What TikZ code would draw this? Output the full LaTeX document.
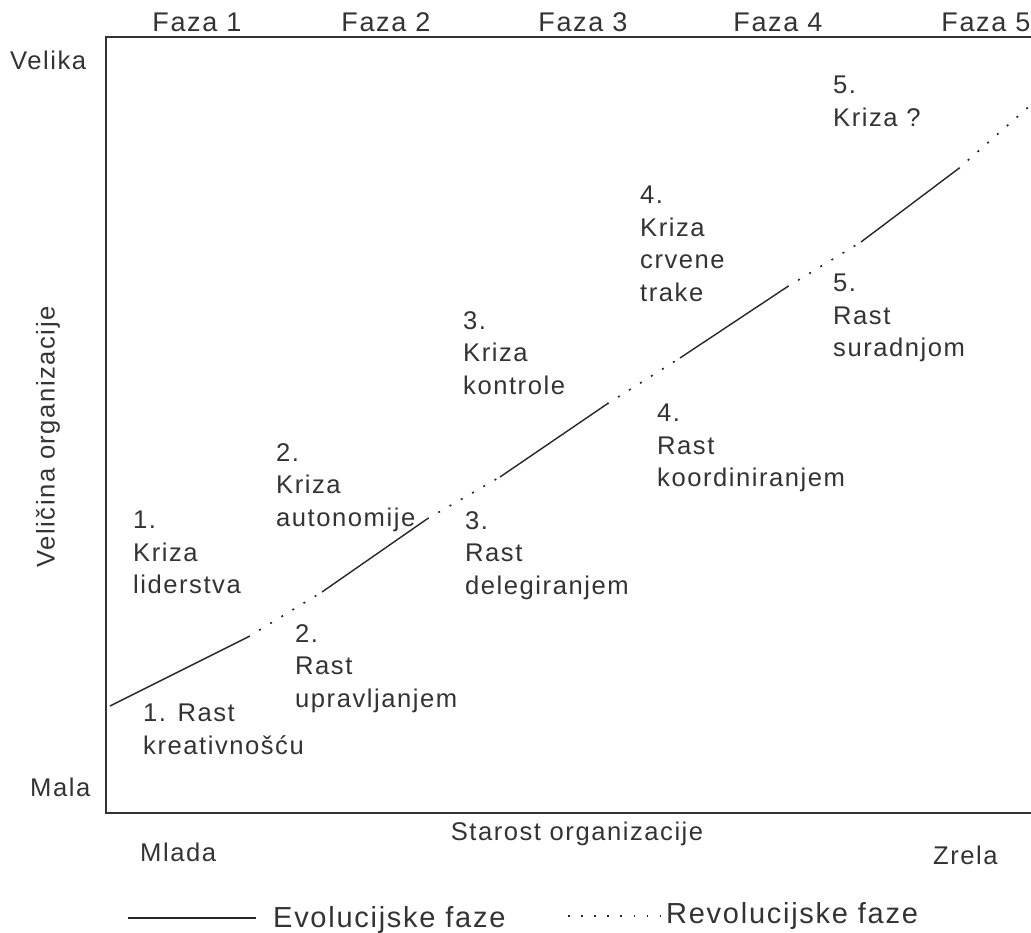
\documentclass[tikz,border=0pt]{standalone}
\usepackage{fontspec}
\setmainfont{Liberation Sans}[LetterSpace=6]
\usepackage{tikz}

\tikzset{
  lbl/.style={anchor=north west, inner sep=0pt, align=left, text=black!80},
  faza/.style={text=black!80, font=\fontsize{27}{32}\selectfont},
  leg/.style={anchor=west, inner sep=0pt, text=black!80, font=\fontsize{29}{34}\selectfont},
  evo/.style={line width=1.4pt, black!85},
  revo/.style={line width=1.6pt, black!85, dash pattern=on 2pt off 11pt}
}

\begin{document}
\fontsize{25.6}{32.5}\selectfont
\begin{tikzpicture}[x=1pt, y=-1pt]
          \useasboundingbox (0,0) rectangle (1031,933);

          % okvir
          \coordinate (tl) at (106, 37);
          \coordinate (bl) at (106,813);
          \coordinate (tr) at (1031, 37);
          \coordinate (br) at (1031,813);
          \draw[line width=1.5pt, black!80] (tr) -- (tl) -- (bl) -- (br);

          % krivulja rasta
          \coordinate (a0) at ( 110,706);
          \coordinate (a1) at ( 248,637);
          \coordinate (a2) at ( 322,592);
          \coordinate (a3) at ( 427,519);
          \coordinate (a4) at ( 500,477);
          \coordinate (a5) at ( 607,404);
          \coordinate (a6) at ( 680,358);
          \coordinate (a7) at ( 787,287);
          \coordinate (a8) at ( 861,242);
          \coordinate (a9) at ( 958,169);
          \coordinate (a10) at (1033,103);

          \draw[evo]  (a0)--(a1);
          \draw[revo] (a1)--(a2);
          \draw[evo]  (a2)--(a3);
          \draw[revo] (a3)--(a4);
          \draw[evo]  (a4)--(a5);
          \draw[revo] (a5)--(a6);
          \draw[evo]  (a6)--(a7);
          \draw[revo] (a7)--(a8);
          \draw[evo]  (a8)--(a9);
          \draw[revo] (a9)--(a10);

          % faze
          \node (f1) at (197,22) [faza] {Faza 1};
          \node (f2) at (386,22) [faza] {Faza 2};
          \node (f3) at (583,22) [faza] {Faza 3};
          \node (f4) at (778,22) [faza] {Faza 4};
          \node (f5) at (986,22) [faza] {Faza 5};

          \node (vel) at ( 10, 51) [lbl] {Velika};
          \node (mal) at ( 30,778) [lbl] {Mala};
          \node (vo)  at ( 48,437) [rotate=90, text=black!80] {Veličina organizacije};
          \node (so)  at (577,834) [text=black!80] {Starost organizacije};
          \node (mla) at (140,843) [lbl] {Mlada};
          \node (zre) at (933,846) [lbl] {Zrela};

          % rast i krize
          \node (r1) at (143,704) [lbl] {1. Rast\\kreativnošću};
          \node (k1) at (133,511) [lbl] {1.\\Kriza\\liderstva};
          \node (r2) at (295,624) [lbl] {2.\\Rast\\upravljanjem};
          \node (k2) at (276,443) [lbl] {2.\\Kriza\\autonomije};
          \node (r3) at (465,511) [lbl] {3.\\Rast\\delegiranjem};
          \node (k3) at (463,311) [lbl] {3.\\Kriza\\kontrole};
          \node (r4) at (657,404) [lbl] {4.\\Rast\\koordiniranjem};
          \node (k4) at (640,186) [lbl] {4.\\Kriza\\crvene\\trake};
          \node (r5) at (833,274) [lbl] {5.\\Rast\\suradnjom};
          \node (k5) at (833, 76) [lbl] {5.\\Kriza ?};

          % legenda
          \coordinate (e0) at (128,918);
          \coordinate (e1) at (256,918);
          \coordinate (d0) at (568,916);
          \coordinate (d1) at (662,916);
          \draw[evo] (e0)--(e1);
          \draw[revo, dash pattern=on 1.6pt off 11.5pt] (d0)--(d1);
          \node (le) at (273,920) [leg] {Evolucijske faze};
          \node (lr) at (666,916) [leg] {Revolucijske faze};
        \end{tikzpicture}
\end{document}
